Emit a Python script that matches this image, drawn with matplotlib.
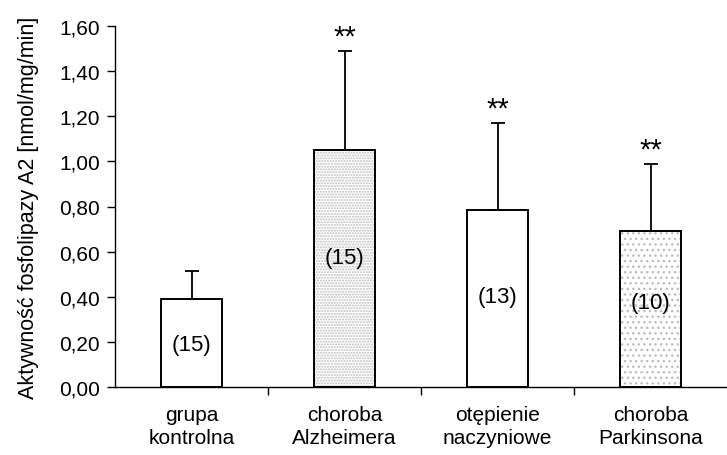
import matplotlib.pyplot as plt
import numpy as np

categories = ['grupa\nkontrolna', 'choroba\nAlzheimera', 'otępienie\nnaczyniowe', 'choroba\nParkinsona']
means = [0.39, 1.05, 0.785, 0.69]
sd_up = [0.125, 0.44, 0.385, 0.30]
counts = ['(15)', '(15)', '(13)', '(10)']
count_y = [0.19, 0.575, 0.40, 0.375]
stars = ['', '**', '**', '**']
yticks = [0.0, 0.2, 0.4, 0.6, 0.8, 1.0, 1.2, 1.4, 1.6]

plt.rcParams['font.family'] = ['Liberation Sans', 'DejaVu Sans']

fig = plt.figure(figsize=(7.27, 4.56), dpi=100)
ax = fig.add_axes([115 / 727, 1 - 388 / 456, 612 / 727, 361 / 456])

x = np.arange(len(categories))
width = 0.40
hatches = [None, '......', None, '...']

for i in range(len(categories)):
    if hatches[i]:
        ax.bar(x[i], means[i], width, color='white', edgecolor='#bdbdbd',
               hatch=hatches[i], linewidth=0, zorder=2)
    ax.bar(x[i], means[i], width, facecolor='none' if hatches[i] else 'white',
           edgecolor='black', linewidth=1.4, zorder=3)

ax.errorbar(x, means, yerr=[np.zeros(len(means)), sd_up], fmt='none',
            ecolor='black', elinewidth=1.3, capsize=5, capthick=1.3, zorder=4)

for i in range(len(categories)):
    ax.text(x[i], count_y[i], counts[i], ha='center', va='center', fontsize=16, zorder=5)
    if stars[i]:
        ax.annotate(stars[i], (x[i], means[i] + sd_up[i]), xytext=(0, 0),
                    textcoords='offset points', ha='center', va='bottom', fontsize=21)

ax.set_xlim(-0.5, 3.5)
ax.set_ylim(0, 1.6)
ax.set_yticks(yticks)
ax.set_yticklabels([f'{v:.2f}'.replace('.', ',') for v in yticks], fontsize=15)
ax.set_xticks(x)
ax.set_xticklabels(categories, fontsize=15, linespacing=1.25)
ax.tick_params(axis='x', which='major', length=0, pad=13)
ax.set_xticks([0.5, 1.5, 2.5], minor=True)
ax.tick_params(axis='x', which='minor', length=6, width=1, direction='out')
ax.tick_params(axis='y', length=6, width=1, direction='out', pad=5)

ax.spines['top'].set_visible(False)
ax.spines['right'].set_visible(False)
ax.spines['left'].set_linewidth(1)
ax.spines['bottom'].set_linewidth(1)

ax.set_ylabel('Aktywność fosfolipazy A2 [nmol/mg/min]', fontsize=15.5, labelpad=14)

fig.savefig('out.png', dpi=100)
